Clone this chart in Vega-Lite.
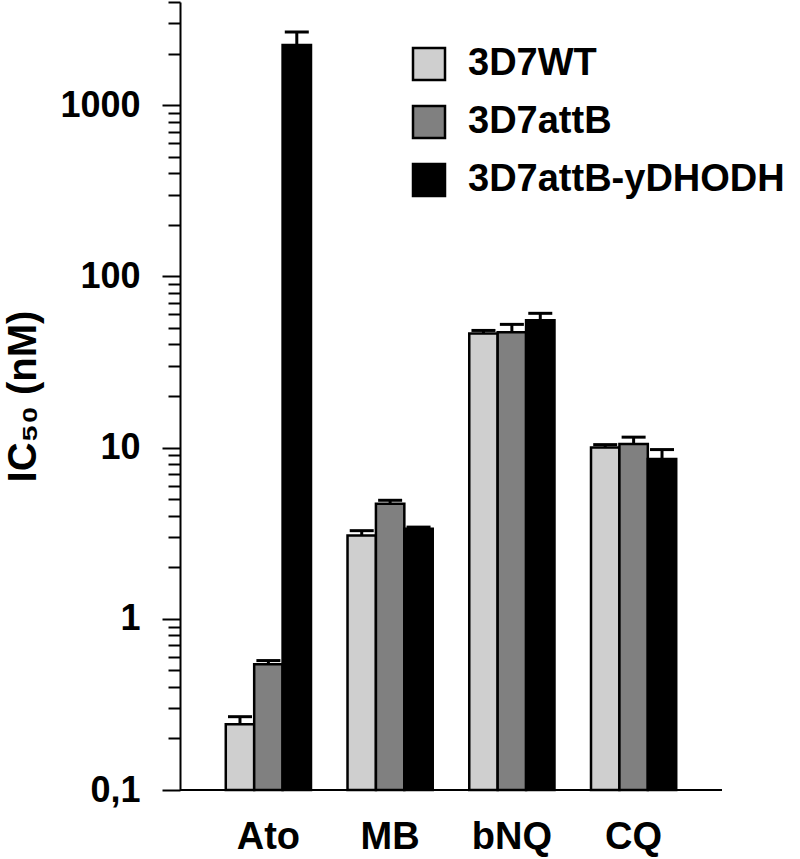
{
  "$schema": "https://vega.github.io/schema/vega-lite/v6.json",
  "autosize": "none",
  "width": 542,
  "height": 788,
  "padding": {"left": 180, "top": 2, "right": 78, "bottom": 69},
  "background": "white",
  "config": {"view": {"stroke": null}, "font": "Liberation Sans"},
  "data": {
    "values": [
      {"drug": "Ato", "strain": "3D7WT", "value": 0.242, "err": 0.268, "base": 0.1},
      {"drug": "Ato", "strain": "3D7attB", "value": 0.543, "err": 0.57, "base": 0.1},
      {"drug": "Ato", "strain": "3D7attB-yDHODH", "value": 2244, "err": 2672, "base": 0.1},
      {"drug": "MB", "strain": "3D7WT", "value": 3.06, "err": 3.27, "base": 0.1},
      {"drug": "MB", "strain": "3D7attB", "value": 4.69, "err": 4.92, "base": 0.1},
      {"drug": "MB", "strain": "3D7attB-yDHODH", "value": 3.35, "err": 3.43, "base": 0.1},
      {"drug": "bNQ", "strain": "3D7WT", "value": 46.4, "err": 48.3, "base": 0.1},
      {"drug": "bNQ", "strain": "3D7attB", "value": 47.2, "err": 52.4, "base": 0.1},
      {"drug": "bNQ", "strain": "3D7attB-yDHODH", "value": 55.3, "err": 60.8, "base": 0.1},
      {"drug": "CQ", "strain": "3D7WT", "value": 10.0, "err": 10.4, "base": 0.1},
      {"drug": "CQ", "strain": "3D7attB", "value": 10.5, "err": 11.5, "base": 0.1},
      {"drug": "CQ", "strain": "3D7attB-yDHODH", "value": 8.57, "err": 9.73, "base": 0.1}
    ]
  },
  "layer": [
    {
      "mark": {"type": "rule", "strokeWidth": 2, "color": "black"},
      "encoding": {
        "y": {
          "field": "base",
          "type": "quantitative",
          "scale": {"type": "log", "domain": [0.1, 4000], "nice": false},
          "axis": null
        }
      }
    },
    {
      "mark": {"type": "bar", "stroke": "black", "strokeWidth": 2.5, "opacity": 1, "fillOpacity": 1},
      "encoding": {
        "x": {
          "field": "drug",
          "type": "nominal",
          "sort": ["Ato", "MB", "bNQ", "CQ"],
          "scale": {"paddingInner": 0.3, "paddingOuter": 0.376},
          "axis": {
            "title": null,
            "labelAngle": 0,
            "labelFontSize": 38,
            "labelFontWeight": "bold",
            "labelColor": "black",
            "ticks": false,
            "domain": false,
            "labelPadding": 28
          }
        },
        "xOffset": {
          "field": "strain",
          "type": "nominal",
          "sort": ["3D7WT", "3D7attB", "3D7attB-yDHODH"],
          "scale": {"paddingInner": 0, "paddingOuter": 0}
        },
        "y": {
          "field": "value",
          "type": "quantitative",
          "scale": {"type": "log", "domain": [0.1, 4000], "nice": false},
          "axis": {
            "orient": "left",
            "values": [0.1, 1, 10, 100, 1000],
            "labelExpr": "datum.value < 0.5 ? '0,1' : format(datum.value, 'd')",
            "labelOverlap": false,
            "grid": false,
            "tickSize": 18,
            "tickWidth": 2,
            "tickColor": "black",
            "domainColor": "black",
            "domainWidth": 2,
            "labelFontSize": 36,
            "labelFontWeight": "bold",
            "labelColor": "black",
            "labelPadding": 22,
            "title": "IC₅₀ (nM)",
            "titleFontSize": 40,
            "titleFontWeight": "bold",
            "titleColor": "black",
            "titlePadding": 16
          }
        },
        "y2": {"field": "base"},
        "fill": {
          "field": "strain",
          "type": "nominal",
          "sort": ["3D7WT", "3D7attB", "3D7attB-yDHODH"],
          "scale": {"domain": ["3D7WT", "3D7attB", "3D7attB-yDHODH"], "range": ["#cfcfcf", "#808080", "#000000"]},
          "legend": {
            "orient": "none",
            "legendX": 230,
            "legendY": 43,
            "title": null,
            "padding": 0,
            "symbolType": "square",
            "symbolSize": 1024,
            "symbolStrokeColor": "black",
            "symbolStrokeWidth": 2.5,
            "symbolOpacity": 1,
            "labelFontSize": 38,
            "labelFontWeight": "bold",
            "labelColor": "black",
            "labelOffset": 20,
            "rowPadding": 16,
            "labelLimit": 400
          }
        }
      }
    },
    {
      "mark": {"type": "rule", "strokeWidth": 3, "color": "black"},
      "encoding": {
        "x": {"field": "drug", "type": "nominal", "sort": ["Ato", "MB", "bNQ", "CQ"]},
        "xOffset": {"field": "strain", "type": "nominal", "sort": ["3D7WT", "3D7attB", "3D7attB-yDHODH"]},
        "y": {
          "field": "value",
          "type": "quantitative",
          "scale": {"type": "log", "domain": [0.1, 4000], "nice": false},
          "axis": {
            "orient": "left",
            "values": [0.2, 0.3, 0.4, 0.5, 0.6, 0.7, 0.8, 0.9, 2, 3, 4, 5, 6, 7, 8, 9, 20, 30, 40, 50, 60, 70, 80, 90, 200, 300, 400, 500, 600, 700, 800, 900, 2000, 3000, 4000],
            "labels": false,
            "domain": false,
            "grid": false,
            "tickSize": 12,
            "tickWidth": 2,
            "tickColor": "black",
            "title": null
          }
        },
        "y2": {"field": "err"}
      }
    },
    {
      "mark": {"type": "tick", "thickness": 3, "size": 24, "color": "black", "opacity": 1},
      "encoding": {
        "x": {"field": "drug", "type": "nominal", "sort": ["Ato", "MB", "bNQ", "CQ"]},
        "xOffset": {"field": "strain", "type": "nominal", "sort": ["3D7WT", "3D7attB", "3D7attB-yDHODH"]},
        "y": {
          "field": "err",
          "type": "quantitative",
          "scale": {"type": "log", "domain": [0.1, 4000], "nice": false},
          "axis": null
        }
      }
    }
  ],
  "resolve": {"axis": {"y": "independent"}}
}
